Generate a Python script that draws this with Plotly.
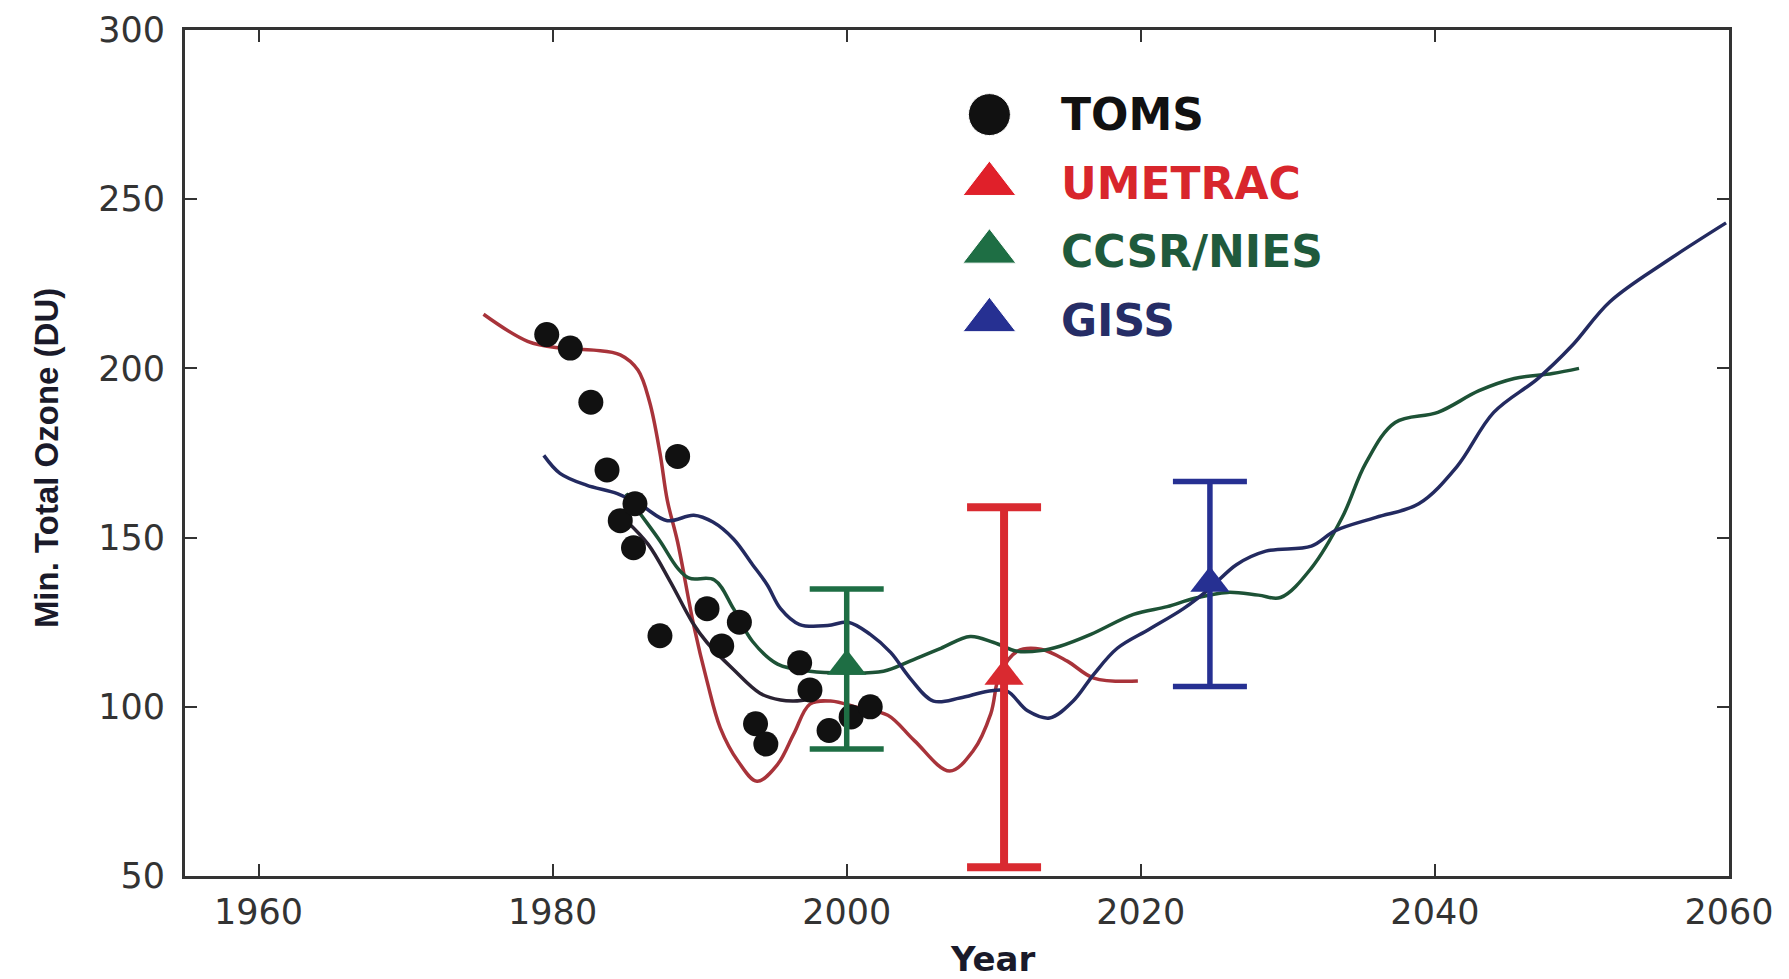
import plotly.graph_objects as go

# TOMS observed minimum total ozone (DU)
toms_year = [1979.6, 1981.2, 1982.6, 1983.7, 1984.6, 1985.6, 1985.5, 1988.5, 1987.3, 1990.5,
             1991.5, 1992.7, 1993.8, 1994.5, 1996.8, 1997.5, 1998.8, 2000.3, 2001.6]
toms_min = [210, 206, 190, 170, 155, 160, 147, 174, 121, 129,
            118, 125, 95, 89, 113, 105, 93, 97, 100]

# UMETRAC model curve
um_year = [1975.3, 1978.3, 1980.5, 1982.8, 1984.6, 1985.8, 1986.6, 1987.3, 1987.8, 1988.5,
           1989.6, 1990.5, 1991.4, 1992.6, 1993.9, 1995.3, 1996.4, 1997.5, 1998.9, 2000.9,
           2002.8, 2004.6, 2007.0, 2008.6, 2009.8, 2010.4, 2011.6, 2013.2, 2015.0, 2016.8, 2019.8]
um_min = [216, 208, 206, 205.4, 204, 199.5, 190, 175, 161, 148.7,
          124, 107.6, 93.8, 84, 78, 83, 92, 100.8, 101.7, 99.6,
          97.5, 90, 81, 87, 98, 109.6, 116.4, 117, 113.5, 108.5, 107.6]

# CCSR/NIES model curve
cc_year = [1985.0, 1985.8, 1987.3, 1988.5, 1989.3, 1991.0, 1992.3, 1993.6, 1995.3, 1997.5,
           1999.8, 2002.5, 2004.3, 2006.4, 2008.4, 2010.0, 2011.6, 2013.2, 2014.5, 2016.6,
           2019.5, 2021.8, 2023.6, 2025.9, 2028.0, 2029.5, 2031.6, 2033.7, 2035.3, 2037.3,
           2040.2, 2043.0, 2045.4, 2048.0, 2049.8]
cc_min = [163, 158, 149, 141, 138, 137.5, 129, 119.3, 112.6, 110.5,
          110, 110.5, 113.5, 117.3, 120.8, 119, 116.4, 116.6, 117.9, 121.4,
          127.3, 129.6, 132, 133.8, 133, 132.3, 141, 156, 172, 184,
          187, 193.4, 197, 198.5, 200]

# second dark curve (lower branch, 1985-1998)
bk_year = [1985.0, 1986.5, 1988.0, 1989.5, 1990.5, 1992.3, 1994.1, 1995.5, 1996.4, 1997.7]
bk_min = [155, 148, 137, 125, 119, 111, 104, 102, 101.7, 102.3]

# GISS model curve
gs_year = [1979.4, 1980.5, 1982.3, 1984.4, 1986.0, 1987.8, 1989.6, 1990.9, 1992.3, 1993.6,
           1994.6, 1995.5, 1996.8, 1998.7, 2000.1, 2001.6, 2003.0, 2004.3, 2005.9, 2007.7,
           2009.6, 2010.9, 2012.3, 2013.8, 2015.4, 2016.8, 2018.4, 2020.6, 2022.9, 2024.7,
           2026.5, 2028.5, 2031.6, 2033.2, 2036.0, 2038.9, 2041.5, 2044.0, 2047.0, 2049.3,
           2051.9, 2055.8, 2059.8]
gs_min = [174.3, 169, 165.5, 163, 159.6, 155, 156.6, 154.6, 149.6, 142,
          136, 129, 124.3, 124, 125, 121.4, 116, 108.5, 101.7, 102.6,
          104.6, 104.6, 98.8, 96.7, 101.7, 109.6, 117.3, 123, 129, 135,
          142, 146, 147.5, 152, 156, 160, 171, 187, 197, 206.6,
          219.7, 231.8, 243]

# model recovery estimates with ranges
eb_names = ["UMETRAC", "CCSR/NIES", "GISS"]
eb_year = [2010.7, 2000.0, 2024.7]
eb_center = [109, 112, 136.5]
eb_high = [159, 134.8, 166.6]
eb_low = [52.6, 87.5, 106]

red = "#a8333a"
red_bar = "#d92a30"
green = "#1d5236"
green_bar = "#1e6e44"
blue = "#232a60"
blue_bar = "#263092"

fig = go.Figure()

# model curves
fig.add_trace(go.Scatter(x=um_year, y=um_min, mode="lines", line=dict(color=red, width=3.5, shape="spline"),
                         showlegend=False))
fig.add_trace(go.Scatter(x=bk_year, y=bk_min, mode="lines", line=dict(color="#2a2232", width=3.5, shape="spline"),
                         showlegend=False))
fig.add_trace(go.Scatter(x=cc_year, y=cc_min, mode="lines", line=dict(color=green, width=3.5, shape="spline"),
                         showlegend=False))
fig.add_trace(go.Scatter(x=gs_year, y=gs_min, mode="lines", line=dict(color=blue, width=3.5, shape="spline"),
                         showlegend=False))

# TOMS obs
fig.add_trace(go.Scatter(x=toms_year, y=toms_min, mode="markers",
                         marker=dict(symbol="circle", size=25, color="#111111", opacity=1), showlegend=False))

# error bars + triangles
bar_cols = [red_bar, green_bar, blue_bar]
for i in range(len(eb_names)):
    fig.add_trace(go.Scatter(
        x=[eb_year[i]], y=[eb_center[i]], mode="markers",
        marker=dict(symbol="triangle-up", size=34, color=bar_cols[i], opacity=1),
        error_y=dict(type="data", array=[eb_high[i] - eb_center[i]],
                     arrayminus=[eb_center[i] - eb_low[i]],
                     color=bar_cols[i], thickness=8 if i == 0 else 5.5, width=37),
        showlegend=False))

# hand made legend (paper coords on overlay axes)
leg_x = 0.521
leg_text_x = 0.566
leg_y = [0.900, 0.818, 0.738, 0.657]
leg_labels = ["TOMS", "UMETRAC", "CCSR/NIES", "GISS"]
leg_cols = ["#111111", "#e0202a", "#1e6e44", "#263092"]
leg_txt_cols = ["#111111", "#d8262c", "#1f5a3c", "#262d66"]
leg_sym = ["circle", "triangle-up", "triangle-up", "triangle-up"]
leg_size = [42, 46, 46, 46]

fig.add_trace(go.Scatter(x=[leg_x] * 4, y=leg_y, mode="markers", xaxis="x2", yaxis="y2",
                         marker=dict(symbol=leg_sym, size=leg_size, color=leg_cols, opacity=1),
                         showlegend=False, hoverinfo="skip"))
for i in range(4):
    fig.add_annotation(x=leg_text_x, y=leg_y[i], xref="paper", yref="paper", xanchor="left",
                       yanchor="middle", showarrow=False, text="<b>" + leg_labels[i] + "</b>",
                       font=dict(family="DejaVu Sans", size=44, color=leg_txt_cols[i]))

# axis titles
fig.add_annotation(x=-0.090, y=0.494, xref="paper", yref="paper", showarrow=False, textangle=-90,
                   xanchor="center", yanchor="middle",
                   text="<b>Min. Total Ozone (DU)</b>",
                   font=dict(family="Liberation Sans Narrow, Liberation Sans", size=33, color="#1a1a2a"))
fig.add_annotation(x=0.523, y=-0.098, xref="paper", yref="paper", showarrow=False,
                   xanchor="center", yanchor="middle",
                   text="<b>Year</b>", font=dict(family="DejaVu Sans", size=34, color="#1a1a2a"))

axis_common = dict(showline=True, linecolor="#333333", linewidth=3, mirror="ticks",
                   ticks="inside", ticklen=12, tickwidth=2, tickcolor="#333333",
                   showgrid=False, zeroline=False, automargin=False, ticklabeloverflow="allow",
                   tickfont=dict(family="DejaVu Sans", size=35, color="#333333"))

# page body has an 8px margin, so the figure is shrunk by that much
fig.update_layout(
    width=1781, height=971,
    margin=dict(l=177, r=60, t=22, b=103),
    paper_bgcolor="white", plot_bgcolor="white",
    xaxis=dict(range=[1955, 2060], tickvals=[1960, 1980, 2000, 2020, 2040, 2060],
               ticklabelstandoff=3, **axis_common),
    yaxis=dict(range=[50, 300], tickvals=[50, 100, 150, 200, 250, 300],
               ticklabelstandoff=10, **axis_common),
    xaxis2=dict(range=[0, 1], overlaying="x", visible=False),
    yaxis2=dict(range=[0, 1], overlaying="y", visible=False),
    showlegend=False,
)

fig.write_html("out.html")
